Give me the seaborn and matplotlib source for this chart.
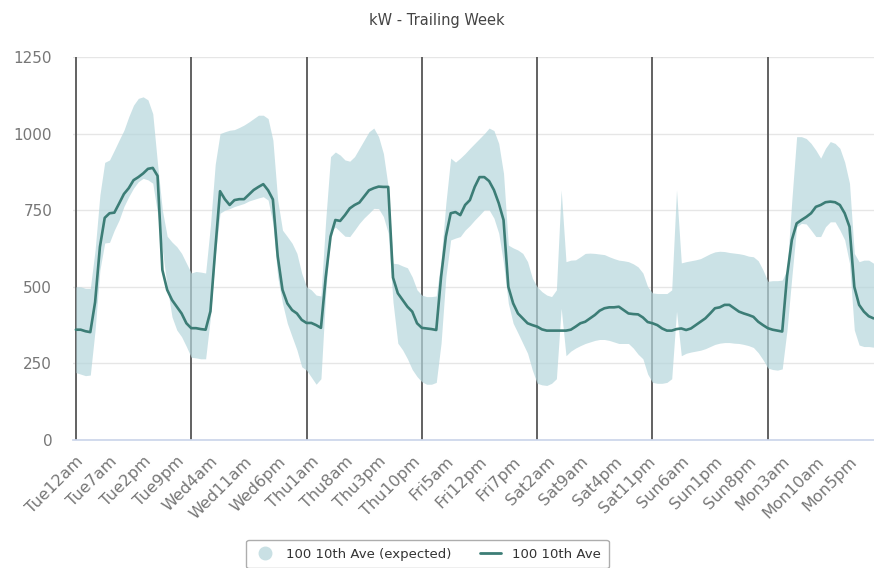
import matplotlib
matplotlib.use("Agg")
import matplotlib.pyplot as plt
import numpy as np
import seaborn as sns
from matplotlib.lines import Line2D

# hourly kW readings, Tue 12am .. Mon 10pm (one row per day)
actual_kw = [
    360, 360, 355, 352, 450, 630, 725, 740, 742, 772, 803, 822, 848, 858, 870, 885, 888, 862, 555, 490, 457, 435, 413, 381,
    365, 365, 362, 360, 420, 620, 812, 786, 767, 783, 786, 786, 801, 816, 826, 835, 815, 785, 600, 490, 446, 424, 413, 392,
    382, 382, 375, 366, 532, 664, 718, 715, 734, 756, 767, 775, 795, 815, 822, 827, 826, 826, 530, 479, 457, 435, 419, 381,
    366, 364, 362, 359, 532, 664, 740, 744, 734, 767, 783, 826, 858, 858, 845, 816, 773, 718, 500, 446, 413, 397, 381, 375,
    370, 361, 357, 357, 357, 357, 357, 360, 370, 381, 386, 397, 408, 422, 430, 433, 433, 435, 424, 413, 411, 410, 400, 385,
    381, 375, 364, 357, 357, 362, 364, 359, 364, 375, 386, 397, 413, 430, 433, 441, 441, 430, 419, 413, 408, 402, 386, 375,
    365, 360, 357, 354, 535, 653, 707, 718, 728, 740, 761, 767, 776, 778, 776, 767, 740, 696, 500, 441, 419, 404, 397,
]

expected_high = [
    500, 500, 495, 495, 620, 800, 906, 914, 946, 979, 1011, 1055, 1093, 1115, 1120, 1110, 1065, 900, 750, 665, 646, 631, 609, 577,
    545, 550, 548, 545, 700, 900, 1000, 1006, 1011, 1013, 1020, 1028, 1038, 1049, 1060, 1060, 1049, 979, 783, 685, 664, 642, 609, 544,
    500, 490, 473, 470, 720, 925, 940, 930, 914, 910, 925, 952, 979, 1006, 1018, 990, 935, 826, 577, 575, 568, 562, 532, 490,
    473, 468, 468, 470, 587, 773, 920, 907, 920, 935, 952, 968, 984, 1000, 1018, 1010, 968, 870, 636, 627, 620, 609, 582, 528,
    500, 484, 473, 468, 490, 816, 582, 587, 588, 598, 609, 610, 609, 607, 605, 598, 592, 587, 585, 582, 575, 565, 545, 500,
    480, 478, 478, 478, 490, 816, 578, 582, 585, 588, 592, 600, 608, 614, 616, 615, 612, 610, 608, 605, 600, 598, 585, 555,
    518, 520, 520, 522, 555, 783, 990, 990, 984, 968, 946, 920, 952, 974, 968, 952, 907, 838, 609, 582, 587, 587, 577,
]

expected_low = [
    220, 215, 210, 212, 359, 555, 643, 645, 685, 718, 762, 794, 822, 843, 854, 849, 838, 740, 620, 500, 402, 359, 337, 305,
    270, 268, 265, 265, 400, 600, 740, 750, 755, 762, 767, 772, 780, 785, 790, 794, 783, 707, 532, 446, 381, 337, 294, 239,
    228, 205, 182, 200, 480, 680, 695, 680, 665, 664, 685, 707, 725, 740, 756, 755, 729, 675, 450, 316, 294, 265, 230, 207,
    190, 182, 182, 188, 316, 532, 653, 659, 664, 685, 700, 718, 734, 751, 751, 724, 675, 577, 446, 381, 349, 316, 283, 228,
    185, 180, 178, 185, 200, 430, 275, 290, 300, 308, 315, 320, 325, 328, 328, 325, 320, 315, 315, 315, 300, 280, 265, 215,
    188, 185, 185, 188, 200, 420, 275, 283, 287, 290, 293, 298, 305, 312, 316, 318, 318, 316, 315, 312, 308, 302, 285, 262,
    235, 230, 228, 232, 359, 532, 696, 707, 705, 685, 664, 664, 696, 712, 712, 685, 653, 577, 359, 310, 305, 305, 303,
]

tick_labels = [
    "Tue12am", "Tue7am", "Tue2pm", "Tue9pm", "Wed4am", "Wed11am", "Wed6pm",
    "Thu1am", "Thu8am", "Thu3pm", "Thu10pm", "Fri5am", "Fri12pm", "Fri7pm",
    "Sat2am", "Sat9am", "Sat4pm", "Sat11pm", "Sun6am", "Sun1pm", "Sun8pm",
    "Mon3am", "Mon10am", "Mon5pm",
]

hours = np.arange(len(actual_kw))

band_color = "#b5d6dc"
line_color = "#3c7d76"

sns.set_theme(style="white")
plt.rcParams["font.family"] = ["DejaVu Sans"]

fig = plt.figure(figsize=(8.74, 5.68), dpi=100)
ax = fig.add_axes([73 / 874, 128 / 568, 801 / 874, 383 / 568])

# day boundaries
for d in range(0, len(hours), 24):
    ax.axvline(d, color="#555555", linewidth=1.3, zorder=1)

ax.fill_between(hours, expected_low, expected_high, color=band_color, alpha=0.7,
                linewidth=0, zorder=2)
sns.lineplot(x=hours, y=actual_kw, color=line_color, linewidth=1.9, ax=ax, zorder=3)

ax.set_xlim(-0.6, 166.1)
ax.set_ylim(0, 1250)
ax.set_yticks(range(0, 1251, 250))
ax.set_xticks(range(0, len(hours), 7))
ax.set_xticklabels(tick_labels, rotation=45, ha="right", rotation_mode="anchor",
                   fontsize=11.5, color="#777777")
ax.tick_params(axis="x", length=0, pad=10)
ax.tick_params(axis="y", length=0, pad=15, labelsize=11, labelcolor="#777777")
ax.yaxis.grid(True, color="#e6e6e6", linewidth=1)
ax.set_axisbelow(True)
for s in ["top", "left", "right"]:
    ax.spines[s].set_visible(False)
ax.spines["bottom"].set_color("#ccd6eb")
ax.set_xlabel("")
ax.set_ylabel("")

fig.text(437 / 874, 1 - 20 / 568, "kW - Trailing Week", ha="center", va="center",
         fontsize=10.5, color="#444444")

handles = [
    Line2D([], [], marker="o", linestyle="none", markersize=9,
           markerfacecolor="#c9e0e4", markeredgecolor="#c9e0e4"),
    Line2D([], [], color=line_color, linewidth=2.0),
]
leg = fig.legend(handles, ["100 10th Ave (expected)", "100 10th Ave"],
                 loc="upper center", bbox_to_anchor=(427.5 / 874, 1 - 533 / 568),
                 ncol=2, fontsize=9.5, frameon=True, fancybox=True,
                 handlelength=1.6, columnspacing=2.2, borderpad=0.6)
leg.get_frame().set_edgecolor("#999999")
leg.get_frame().set_linewidth(1)
for t in leg.get_texts():
    t.set_color("#333333")

fig.savefig("out.png", dpi=100)
